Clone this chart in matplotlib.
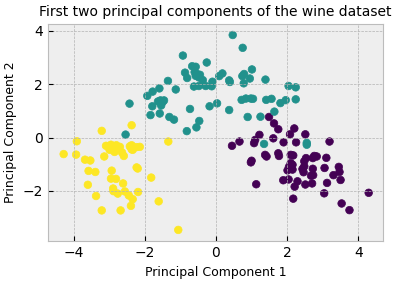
import numpy as np
import matplotlib
matplotlib.use("Agg")
import matplotlib.pyplot as plt

# classe 0 (violet)
pc1_c0 = [1.22, 1.10, 1.07, 0.66, 0.45, 1.38, 1.42, 1.00, 0.98, 1.13, 1.49, 1.63, 1.75, 2.20, 2.08,
          2.51, 1.61, 1.90, 2.25, 3.19, 1.75, 1.77, 2.10, 2.17, 2.53, 2.48, 2.76, 2.83, 2.72, 3.10,
          2.10, 2.15, 2.05, 2.48, 2.43, 2.72, 2.01, 2.15, 2.46, 3.05, 3.45, 3.47, 3.30, 2.67, 2.73,
          1.89, 2.04, 2.29, 2.51, 2.70, 3.12, 3.50, 2.21, 3.04, 2.17, 3.53, 3.75, 4.29]
pc2_c0 = [0.10, -0.09, -0.21, -0.15, -0.31, -0.65, -0.71, -0.87, -0.93, -1.75, 0.77, 0.53, 0.31, 0.34, 0.12,
          0.12, -0.03, -0.18, -0.18, -0.15, -0.59, -0.69, -0.65, -0.67, -0.77, -0.89, -0.69, -0.71, -0.77, -0.76,
          -0.96, -1.02, -1.10, -1.08, -1.18, -1.17, -1.23, -1.20, -1.30, -1.14, -1.10, -1.29, -1.41, -1.43, -1.41,
          -1.60, -1.57, -1.64, -1.76, -1.72, -1.70, -1.59, -1.84, -2.09, -2.29, -2.47, -2.72, -2.07]

# classe 1 (vert)
pc1_c1 = [0.47, 0.75, -0.93, -0.26, -0.67, -0.57, 1.01, -0.87, -0.53, -0.57, -0.48, -0.81, 0.18, 0.09,
          0.79, 0.74, 0.95, 0.37, 0.39, 1.39, 0.78, -1.35, -0.37, -0.10, -0.62, -0.48, -0.29, -0.12,
          -1.59, -1.13, -1.78, -1.93, -1.63, -1.56, -1.46, -1.54, -1.79, -2.43, -0.73, -0.18, 0.03, 0.37,
          0.72, 0.84, 0.98, 1.04, 1.41, -1.84, -1.58, -1.31, -1.18, -0.47, -0.55, -0.82, 0.89, 1.25,
          2.04, 2.24, 1.56, 1.81, 1.96, 2.24, 1.64, -2.54, 1.35, 2.55, 2.55, -0.45, -0.60, -1.50]
pc2_c1 = [3.84, 3.36, 3.07, 2.81, 2.67, 2.65, 2.55, 2.43, 2.38, 2.31, 2.25, 2.23, 2.40, 2.30,
          2.38, 2.30, 2.21, 2.14, 2.08, 2.17, 2.03, 2.12, 2.15, 2.09, 1.91, 1.93, 1.93, 1.92,
          1.84, 1.80, 1.72, 1.56, 1.35, 1.39, 1.39, 1.20, 1.17, 1.27, 1.07, 1.17, 1.28, 1.03,
          1.41, 1.46, 1.46, 1.45, 1.41, 0.84, 0.90, 0.77, 0.67, 0.62, 0.38, 0.24, 0.77, 0.78,
          1.93, 1.88, 1.45, 1.29, 1.40, 1.43, 0.97, 0.11, -0.24, -0.20, -0.27, 2.35, 2.45, 1.33]

# classe 2 (jaune)
pc1_c2 = [-3.21, -3.91, -4.28, -3.93, -3.09, -2.95, -2.80, -2.73, -2.99, -2.85, -2.64, -2.59, -3.14,
          -2.37, -2.37, -2.24, -2.14, -2.34, -3.68, -3.53, -2.23, -2.20, -3.58, -3.39, -2.93, -2.95,
          -2.81, -2.61, -3.60, -1.82, -2.89, -2.88, -2.76, -2.56, -2.45, -2.34, -2.19, -3.37, -2.39,
          -1.61, -3.21, -2.68, -1.34, -1.06, -2.37, -2.90, -2.70, -2.42]
pc2_c2 = [0.25, -0.14, -0.62, -0.64, -0.31, -0.27, -0.29, -0.41, -0.46, -0.54, -0.56, -0.69, -0.71,
          -0.29, -0.44, -0.36, -0.35, -0.46, -0.83, -0.86, -1.12, -1.16, -1.25, -1.29, -1.24, -1.54,
          -1.55, -1.72, -1.77, -1.50, -1.91, -2.01, -2.10, -2.02, -2.17, -2.31, -2.04, -2.19, -2.56,
          -2.39, -2.73, -2.73, -0.15, -3.46, 0.46, -0.40, -0.35, -0.33]

x = np.array(pc1_c0 + pc1_c1 + pc1_c2)
y = np.array(pc2_c0 + pc2_c1 + pc2_c2)
labels = np.array([0] * len(pc1_c0) + [1] * len(pc1_c1) + [2] * len(pc1_c2))

plt.style.use("bmh")
fig = plt.figure(figsize=(4.05, 2.83), dpi=100)
ax = fig.add_axes([0.1185, 0.148, 0.827, 0.767])

ax.scatter(x, y, c=labels, cmap="viridis", s=30)

ax.set_xlim(-4.72, 4.69)
ax.set_ylim(-3.88, 4.25)
ax.set_xticks([-4, -2, 0, 2, 4])
ax.set_yticks([-2, 0, 2, 4])
ax.tick_params(labelsize=10)
ax.set_title("First two principal components of the wine dataset", fontsize=10)
ax.set_xlabel("Principal Component 1", fontsize=9)
ax.set_ylabel("Principal Component 2", fontsize=9)

plt.savefig("out.png", dpi=100)
